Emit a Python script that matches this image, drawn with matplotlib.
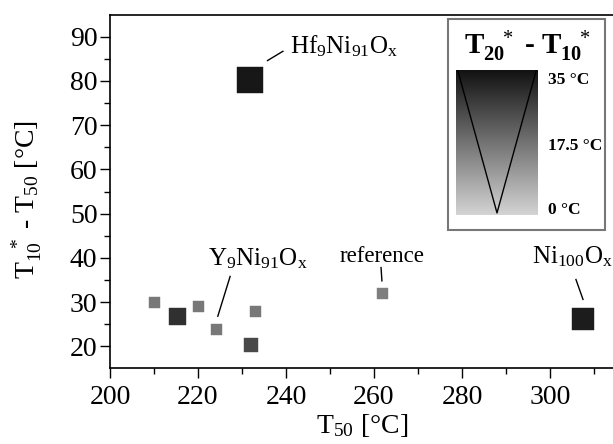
import matplotlib
matplotlib.use("Agg")
import matplotlib.pyplot as plt
import numpy as np
from matplotlib.colors import LinearSegmentedColormap, Normalize
from matplotlib.patches import Rectangle

plt.rcParams['font.family'] = ['Liberation Serif', 'DejaVu Serif']
plt.rcParams['mathtext.fontset'] = 'custom'
plt.rcParams['mathtext.rm'] = 'Liberation Serif'
plt.rcParams['mathtext.it'] = 'Liberation Serif'
plt.rcParams['mathtext.bf'] = 'Liberation Serif:bold'

# Data
t50 = [231.8, 307.5, 261.8, 210.1, 215.2, 219.9, 224.0, 232.0, 233.0]
t10_minus_t50 = [80.3, 26.2, 32.1, 30.1, 26.9, 29.1, 24.0, 20.2, 28.0]
t20_minus_t10 = [34.0, 33.0, 15.5, 16.5, 29.5, 16.5, 16.5, 25.0, 16.5]
marker_px = [27, 22, 11, 11, 17, 11, 11, 14, 11]

W, H = 613, 444
fig = plt.figure(figsize=(W / 100, H / 100), dpi=100)

def fx(px):
    return px / W

def fy(py):
    return 1 - py / H

AXW = W - 110 + 6
TOP, BOT = 15, 368
AXH = BOT - TOP
ax = fig.add_axes([fx(110), fy(BOT), AXW / W, AXH / H])
ax.set_xlim(200, 200 + AXW / 4.4)
ax.set_ylim(15.1, 94.9)

cmap = LinearSegmentedColormap.from_list('g', [(0.83, 0.83, 0.83), (0.07, 0.07, 0.07)])
norm = Normalize(0, 35)

for x, y, d, s in zip(t50, t10_minus_t50, t20_minus_t10, marker_px):
    ax.plot([x], [y], marker='s', linestyle='none',
            markersize=s * 0.72,
            markerfacecolor=cmap(norm(d)), markeredgecolor=cmap(norm(d)),
            markeredgewidth=0.3, zorder=3)

ax.set_xticks([200, 220, 240, 260, 280, 300])
ax.set_yticks([20, 30, 40, 50, 60, 70, 80, 90])
ax.set_xticks(np.arange(210, 315, 20), minor=True)
ax.set_yticks(np.arange(25, 95, 10), minor=True)
ax.tick_params(which='major', direction='out', length=7, width=1, labelsize=20, pad=2)
ax.tick_params(axis='x', which='major', pad=5)
ax.tick_params(which='minor', direction='out', length=4, width=1)
ax.spines['right'].set_visible(False)
for s in ['left', 'bottom', 'top']:
    ax.spines[s].set_linewidth(1.2)

ax.set_xlabel(r'T$_{50}$ [°C]', fontsize=20)
ax.xaxis.set_label_coords((362 - 110) / AXW, -(412 - BOT) / AXH)
ax.set_ylabel(r'T$_{10}^{\ \ *}$ - T$_{50}$ [°C]', fontsize=20)
ax.yaxis.set_label_coords(-(110 - 44) / AXW, (BOT - 200) / AXH)

# annotations
ax.text(240.9, 86.2, r'Hf$_9$Ni$_{91}$O$_x$', fontsize=18, ha='left', va='baseline')
ax.plot([235.8, 239.3], [84.6, 86.7], color='black', lw=1)
ax.text(222.3, 38.4, r'Y$_9$Ni$_{91}$O$_x$', fontsize=18, ha='left', va='baseline')
ax.plot([227.3, 224.5], [35.8, 26.8], color='black', lw=1)
ax.text(261.8, 39.0, 'reference', fontsize=16.5, ha='center', va='baseline')
ax.plot([261.6, 261.8], [37.8, 34.8], color='black', lw=1)
ax.text(295.9, 38.8, r'Ni$_{100}$O$_x$', fontsize=18, ha='left', va='baseline')
ax.plot([305.9, 307.5], [35.1, 30.6], color='black', lw=1)

# inset legend box
box = Rectangle((fx(448), fy(230)), (605 - 448) / W, (230 - 19) / H,
                transform=fig.transFigure, facecolor='white',
                edgecolor='#777777', lw=1.5, zorder=5)
fig.patches.append(box)
fig.text(fx(527), fy(46),
         r'$\mathbf{T}_{\mathbf{20}}^{\ \ \ *}$ - $\mathbf{T}_{\mathbf{10}}^{\ \ \ *}$',
         fontsize=21, ha='center', va='center', fontweight='bold', zorder=6)

cax = fig.add_axes([fx(456), fy(215), (538 - 456) / W, (215 - 70) / H], zorder=6)
grad = np.linspace(0, 35, 256).reshape(-1, 1)
cax.imshow(grad, aspect='auto', cmap=cmap, norm=norm, origin='lower',
           extent=[0, 1, 0, 35])
cax.plot([0.02, 0.5, 0.98], [35, 0.5, 35], color='black', lw=1)
cax.set_xlim(0, 1)
cax.set_ylim(0, 35)
cax.axis('off')
for txt, py in [('35 °C', 80), ('17.5 °C', 146), ('0 °C', 210)]:
    fig.text(fx(548), fy(py), txt, fontsize=12.5, fontweight='bold',
             ha='left', va='center', zorder=7)

fig.savefig('out.png', dpi=100)
